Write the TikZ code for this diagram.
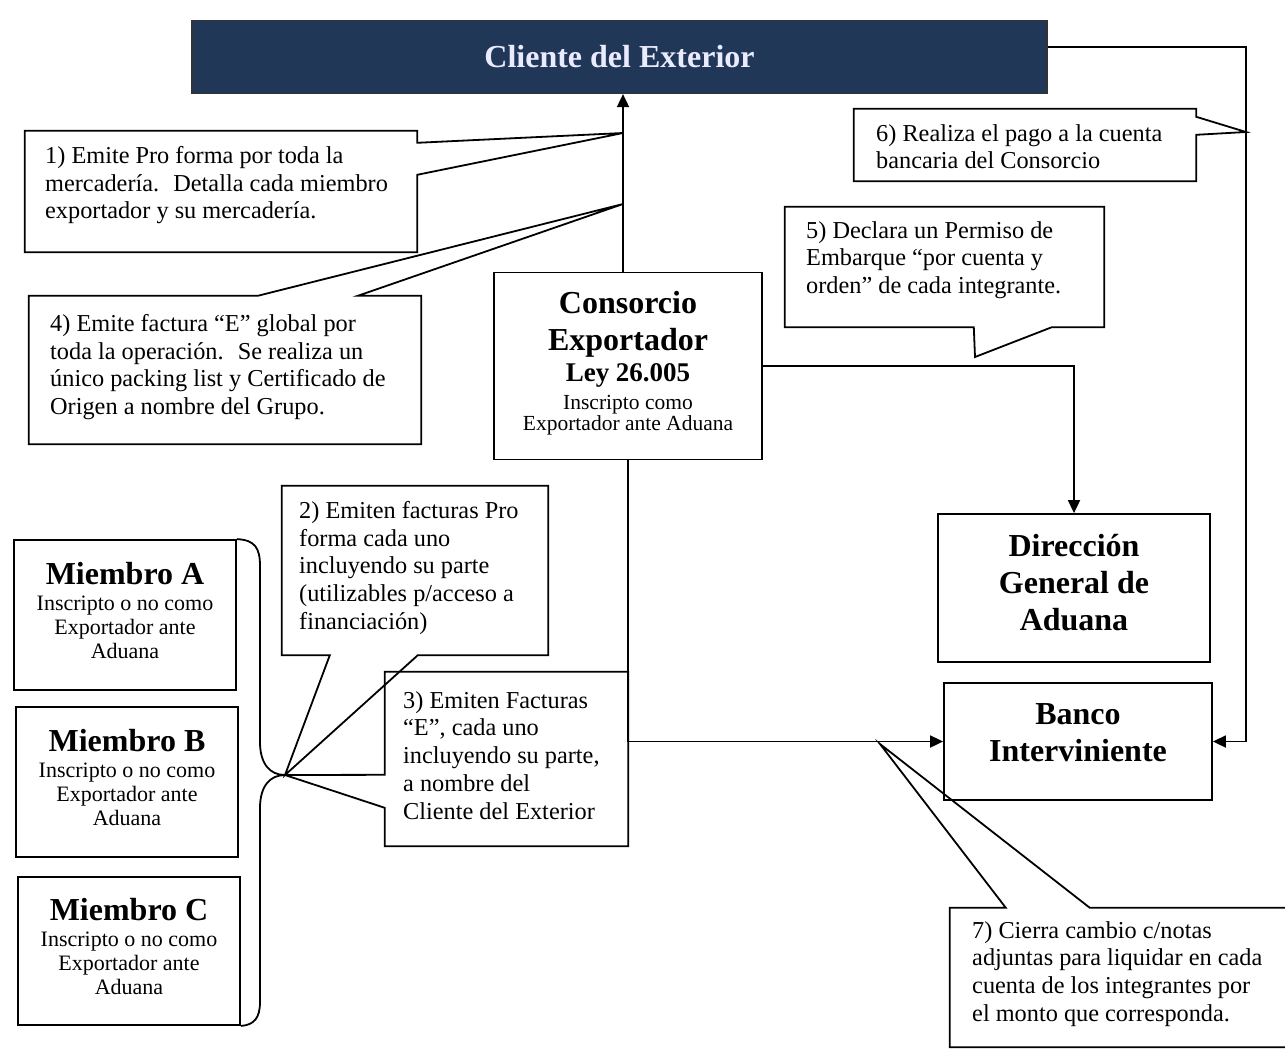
\documentclass[tikz,border=0pt]{standalone}
\usepackage{fontspec}
\setmainfont{Liberation Serif}
\usetikzlibrary{arrows.meta,fit}
\definecolor{navy}{RGB}{33,55,88}
% centred lines with the font's own interword spaces
\newcommand{\natspaces}{\leftskip=0pt plus 1fil\rightskip=0pt plus 1fil
  \spaceskip=0pt\xspaceskip=0pt\parfillskip=0pt\relax}
% empty space below the last line, lifting the text block
\newcommand{\liftby}[1]{\par\hrule height 0pt depth #1 width 0pt\relax}
\begin{document}
\begin{tikzpicture}[x=1pt,y=-1pt,
  line/.style={line width=1.8pt, line join=miter},
  arr/.style={line, -{Triangle[length=13pt,width=12pt]}},
  geo/.style={rectangle, inner sep=0pt},
  plainbox/.style={rectangle, inner sep=0pt, draw, line width=1.8pt, align=center},
  callout/.style={line},
  calltext/.style={anchor=north west, inner sep=0pt, align=left,
                   font=\fontsize{24.3}{27.8}\selectfont},
  memberbox/.style={plainbox, minimum width=222pt, minimum height=150pt, text width=215pt},
]
\clip (0,0) rectangle (1285,1050);
\fill[white] (0,0) rectangle (1285,1050);

% ---- main boxes ----
\node[rectangle, minimum width=855pt, minimum height=73pt, fill=navy, draw=black!80,
      line width=1.2pt, text=white!92!blue, font=\fontsize{32}{36}\selectfont\bfseries]
      (title) at (619.5,57) {Cliente del Exterior};

\node[plainbox, minimum width=268pt, minimum height=187pt, text width=262pt] (cons) at (628,366)
  {\natspaces
   {\fontsize{32}{37}\selectfont\bfseries Consorcio\par Exportador\par}
   {\fontsize{27}{31}\selectfont\bfseries Ley 26.005\par}
   {\fontsize{21.5}{28}\selectfont Inscripto como\par}
   {\fontsize{21.5}{21}\selectfont Exportador ante Aduana\par}\liftby{5pt}};

\node[plainbox, minimum width=272pt, minimum height=148pt, text width=260pt] (dga) at (1074,588)
  {\natspaces\fontsize{32}{37}\selectfont\bfseries Dirección\par General de\par Aduana\liftby{10pt}};

\node[plainbox, minimum width=268pt, minimum height=117pt, text width=260pt] (bank) at (1078,741.5)
  {\natspaces\fontsize{32}{37}\selectfont\bfseries Banco\par Interviniente\liftby{18pt}};

\node[memberbox] (mA) at (125,615)
  {\natspaces
   {\fontsize{32}{37}\selectfont\bfseries Miembro A\par}
   {\fontsize{22}{26}\selectfont Inscripto o no como\par}
   {\fontsize{22}{24}\selectfont Exportador ante\par Aduana\par}\liftby{10pt}};
\node[memberbox] (mB) at (127,782)
  {\natspaces
   {\fontsize{32}{37}\selectfont\bfseries Miembro B\par}
   {\fontsize{22}{26}\selectfont Inscripto o no como\par}
   {\fontsize{22}{24}\selectfont Exportador ante\par Aduana\par}\liftby{10pt}};
\node[memberbox, minimum height=148pt] (mC) at (129,951)
  {\natspaces
   {\fontsize{32}{37}\selectfont\bfseries Miembro C\par}
   {\fontsize{22}{26}\selectfont Inscripto o no como\par}
   {\fontsize{22}{24}\selectfont Exportador ante\par Aduana\par}\liftby{10pt}};

% ---- pointer tips and bends ----
\coordinate (j1) at (623,133);
\coordinate (j4) at (623,204);
\coordinate (j6) at (1246,132);
\coordinate (out1) at (1246,47);
\coordinate (j5) at (975,357);
\coordinate (j7) at (880,744);
\coordinate (bt) at (285,775);

% ---- connectors ----
\draw[arr] (j1 |- cons.north) -- (j1 |- title.south);
\draw[arr] (title.east |- out1) -- (out1) |- (bank.east);
\draw[arr] (cons.east) -| (dga.north);
\draw[arr] (cons.south) |- (bank.west);

% brace joining the three members
\draw[line] (mA.north east) .. controls (255,540) and (260,548) .. (260,566)
  -- (260,742) .. controls (260,764) and (270,775) .. (bt)
  .. controls (270,775) and (260,786) .. (260,808)
  -- (260,1002) .. controls (260,1018) and (254,1025) .. (mC.south east);

% ---- callouts ----
\node[geo, fit={(25,131) (417,252)}] (c1) {};
\draw[callout] (c1.north west) -- (c1.north east) -- ([yshift=-12pt]c1.north east) -- (j1)
  -- ([yshift=-44pt]c1.north east) -- (c1.south east) -- (c1.south west) -- cycle;
\node[calltext] (t1) at (45,146) {1) Emite Pro forma por toda la\\mercadería.~ Detalla cada miembro\\exportador y su mercadería.};

\node[geo, fit={(29,296) (421,444)}] (c4) {};
\draw[callout] (c4.north west) -- ([xshift=229pt]c4.north west) -- (j4)
  -- ([xshift=329pt]c4.north west) -- (c4.north east) -- (c4.south east) -- (c4.south west) -- cycle;
\node[calltext] (t4) at (50,314) {4) Emite factura “E” global por\\toda la operación.~ Se realiza un\\único packing list y Certificado de\\Origen a nombre del Grupo.};

\node[geo, fit={(854,109) (1196,181)}] (c6) {};
\draw[callout] (c6.north west) -- (c6.north east) -- ([yshift=-8pt]c6.north east) -- (j6)
  -- ([yshift=-26pt]c6.north east) -- (c6.south east) -- (c6.south west) -- cycle;
\node[calltext] (t6) at (876,124) {6) Realiza el pago a la cuenta\\bancaria del Consorcio};

\node[geo, fit={(785,207) (1104,327)}] (c5) {};
\draw[callout] (c5.north west) -- (c5.north east) -- (c5.south east) -- ([xshift=267pt]c5.south west)
  -- (j5) -- ([xshift=189pt]c5.south west) -- (c5.south west) -- cycle;
\node[calltext] (t5) at (806,221) {5) Declara un Permiso de\\Embarque “por cuenta y\\orden” de cada integrante.};

\node[geo, fit={(282,486) (548,655)}] (c2) {};
\draw[callout] (c2.north west) -- (c2.north east) -- (c2.south east) -- ([xshift=136pt]c2.south west)
  -- (bt) -- ([xshift=48pt]c2.south west) -- (c2.south west) -- cycle;
\node[calltext] (t2) at (299,501) {2) Emiten facturas Pro\\forma cada uno\\incluyendo su parte\\(utilizables p/acceso a\\financiación)};

\node[geo, fit={(385,672) (628,846)}] (c3) {};
\draw[callout] (c3.north west) -- (c3.north east) -- (c3.south east) -- (c3.south west)
  -- ([yshift=-136pt]c3.north west) -- (bt) -- ([yshift=-103pt]c3.north west) -- cycle;
\node[calltext] (t3) at (403,691) {3) Emiten Facturas\\“E”, cada uno\\incluyendo su parte,\\a nombre del\\Cliente del Exterior};

\node[geo, fit={(950,908) (1300,1047)}] (c7) {};
\draw[callout] (c7.north west) -- ([xshift=56pt]c7.north west) -- (j7)
  -- ([xshift=140pt]c7.north west) -- (c7.north east) -- (c7.south east) -- (c7.south west) -- cycle;
\node[calltext] (t7) at (972,921) {7) Cierra cambio c/notas\\adjuntas para liquidar en cada\\cuenta de los integrantes por\\el monto que corresponda.};
\end{tikzpicture}
\end{document}
